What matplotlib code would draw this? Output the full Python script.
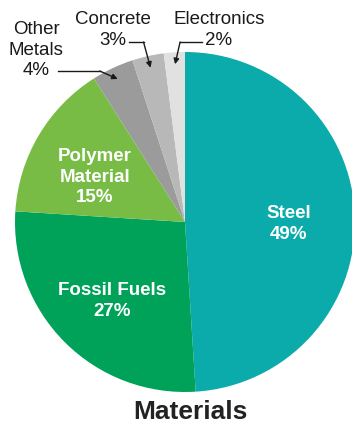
import matplotlib
matplotlib.use('Agg')
import matplotlib.pyplot as plt
import numpy as np

plt.rcParams['font.family'] = ['Liberation Sans', 'DejaVu Sans']

# dados
materiais = ['Steel', 'Fossil Fuels', 'Polymer\nMaterial', 'Other\nMetals', 'Concrete', 'Electronics']
valores = [49, 27, 15, 4, 3, 2]
cores = ['#0aabaa', '#00a25a', '#78bc45', '#9b9b9b', '#b8b8b8', '#e1e1e1']
titulo = 'Materials'

fig = plt.figure(figsize=(3.52, 4.25), dpi=100)
ax = fig.add_axes([0, 0, 1, 1])

cx, cy, r = 185, 203, 170
wedges, _ = ax.pie(valores, colors=cores, startangle=90, counterclock=False,
                   center=(cx, cy), radius=r, frame=True,
                   wedgeprops=dict(linewidth=0))
ax.set_xlim(0, 352)
ax.set_ylim(0, 425)
ax.set_aspect('equal')
ax.axis('off')

# rotulos internos (brancos)
internos = {0: (289, 201), 1: (112, 124), 2: (95, 248)}
for i, (x, y) in internos.items():
    ax.text(x, y, f'{materiais[i]}\n{valores[i]}%', color='white', fontsize=13.5,
            fontweight='bold', ha='center', va='center', linespacing=1.3)

# rotulos externos com setas
externos = {
    3: dict(txt=(36, 375), canto=(58, 354), lado='dir'),
    4: dict(txt=(113, 395), canto=(129, 383), lado='dir'),
    5: dict(txt=(219, 395), canto=(202, 383), lado='esq'),
}
for i, d in externos.items():
    w = wedges[i]
    ang = np.deg2rad((w.theta1 + w.theta2) / 2)
    tip = (cx + 0.93 * r * np.cos(ang), cy + 0.93 * r * np.sin(ang))
    ax.text(d['txt'][0], d['txt'][1], f'{materiais[i]}\n{valores[i]}%', color='#1a1a1a',
            fontsize=13.5, ha='center', va='center', linespacing=1.3)
    x0, y0 = d['canto']
    if d['lado'] == 'dir':
        xc = tip[0] - 7 if i == 4 else tip[0] - 18
    else:
        xc = tip[0] + 5
    ax.plot([x0, xc], [y0, y0], color='#1a1a1a', lw=1)
    ax.annotate('', xy=tip, xytext=(xc, y0),
                arrowprops=dict(arrowstyle='-|>', color='#1a1a1a', lw=1,
                                shrinkA=0, shrinkB=0, mutation_scale=8))

ax.text(cx + 5, 13, titulo, fontsize=19, fontweight='bold', color='#222222',
        ha='center', va='center')

fig.savefig('out.png', dpi=100)
